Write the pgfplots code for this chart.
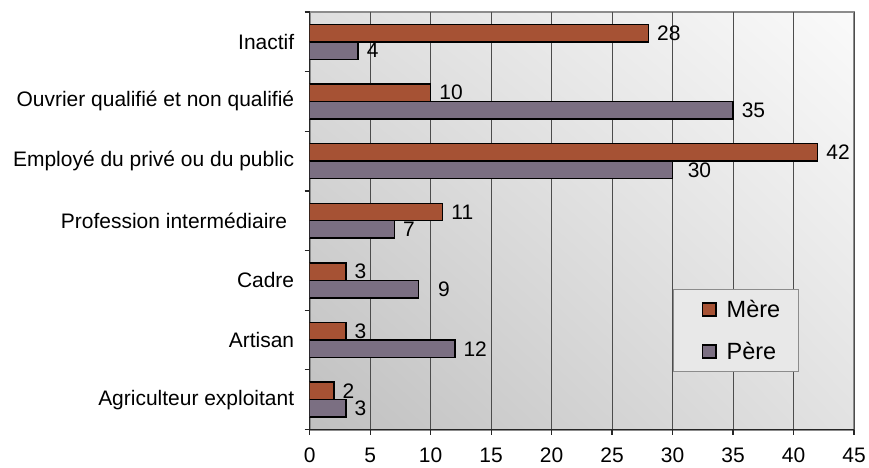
\documentclass[border=0pt]{standalone}
\usepackage{fontspec}
\setmainfont{Liberation Sans}
\usepackage{pgfplots}
\pgfplotsset{compat=1.18}
\usepackage{pgfplotstable}
\usetikzlibrary{shadings}
\definecolor{mere}{RGB}{166,82,52}
\definecolor{pere}{RGB}{123,111,130}
\definecolor{bord}{RGB}{140,140,140}
\definecolor{bgll}{RGB}{192,192,192}
\definecolor{bgul}{RGB}{222,222,222}
\definecolor{bglr}{RGB}{226,226,226}
\definecolor{bgur}{RGB}{250,250,250}
\definecolor{legbg}{RGB}{232,232,232}
\newcommand\chartfont{\fontsize{21bp}{25bp}\selectfont}
\newcommand\legfont{\fontsize{23.5bp}{28bp}\selectfont}
\newcommand\shA{\hspace*{11bp}}
\newcommand\shB{\hspace*{6.5bp}}

\pgfplotstableread{
y x lab
0 2 2
1 3 3
2 3 3
3 11 11
4 42 42
5 10 10
6 28 28
}\meretab
\pgfplotstableread{
y x lab
0 3 3
1 12 12
2 9 {\shA 9}
3 7 7
4 30 {\shB 30}
5 35 35
6 4 4
}\peretab

\begin{document}
\begin{tikzpicture}
\begin{axis}[
  name=ax,
  scale only axis, width=545bp, height=418bp,
  xbar, bar width=17.5bp,
  xmin=0, xmax=45, ymin=-0.5, ymax=6.5,
  /pgf/number format/assume math mode=true,
  xtick={0,5,...,45},
  ytick={-0.5,0.5,...,6.5}, yticklabels={},
  extra y ticks={0,1,2,3,4,5,6},
  extra y tick labels={Agriculteur exploitant, Artisan, Cadre, {Profession intermédiaire\rule{7bp}{0pt}}, Employé du privé ou du public, Ouvrier qualifié et non qualifié, Inactif},
  extra y tick style={major tick length=0pt, yticklabel style={xshift=-12bp}},
  tick label style={font=\chartfont, text=black},
  xticklabel style={yshift=-10bp},
  axis lines*=left, axis line style={-, draw=black!85, line width=1.3bp},
  tick align=outside, major tick length=5bp, tick style={draw=black!85, line width=1.2bp},
  xmajorgrids, major grid style={draw=black!70, line width=0.9bp},
  axis background/.style={lower left=bgll, upper left=bgul, lower right=bglr, upper right=bgur, draw=bord, line width=2bp},
  legend style={at={(rel axis cs:0.668,0.337)}, anchor=north west, draw=bord, fill=legbg, line width=1bp,
    font=\legfont, inner xsep=16bp, inner ysep=9bp, row sep=19bp, cells={anchor=west}},
  legend image code/.code={\path (0bp,0bp) (33.5bp,0bp); \draw[#1, draw=black, line width=1.4bp] (12bp,-6.5bp) rectangle (25.5bp,6.5bp);},
  nodes near coords,
  point meta=explicit symbolic,
  every node near coord/.append style={anchor=west, inner sep=0pt, xshift=8bp, font=\chartfont, text=black},
]
\addplot[fill=mere, draw=black, line width=1.5bp, bar shift=8.75bp] table[x=x,y=y,meta=lab]{\meretab};
\addlegendentry{Mère}
\addplot[fill=pere, draw=black, line width=1.5bp, bar shift=-8.75bp] table[x=x,y=y,meta=lab]{\peretab};
\addlegendentry{Père}
\end{axis}
\path (ax.south west) ++(-310bp,-38bp);
\path (ax.north east) ++(14bp,12bp);
\end{tikzpicture}
\end{document}
